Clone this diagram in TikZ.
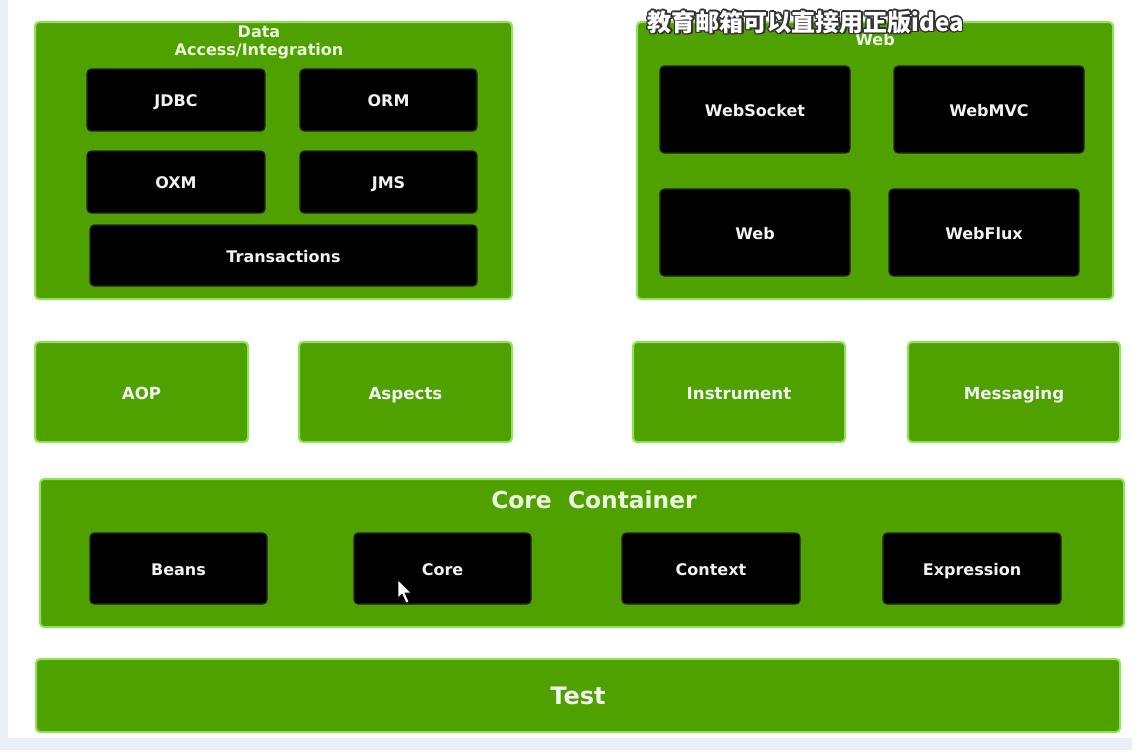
\documentclass[tikz,border=0pt]{standalone}
\usepackage{fontspec}
\setmainfont{DejaVu Sans}
\newfontfamily\cjkfont{Noto Sans CJK SC}
\usepackage[copies]{contour}
\contourlength{1.1pt}
\definecolor{sgreen}{HTML}{4FA100}
\definecolor{sborder}{HTML}{8FE35A}
\definecolor{bgout}{HTML}{E9EFF8}
\definecolor{ltxt}{HTML}{F2F2F2}
\definecolor{gtitle}{HTML}{ECF7E0}
\tikzset{
  greenbox/.style={fill=sgreen, draw=sborder, line width=1.5pt, rounded corners=3pt, inner sep=0pt, outer sep=0pt,
     text height=10.6pt, text depth=0pt},
  blackbox/.style={fill=black, draw=black!70!gray, line width=0.8pt, rounded corners=3pt, inner sep=0pt, outer sep=0pt,
     text=ltxt, font=\bfseries\fontsize{12}{14}\selectfont, text height=10pt, text depth=0pt},
  glabel/.style={text=ltxt, font=\bfseries\fontsize{12.5}{15}\selectfont},
  gtitlestyle/.style={text=gtitle, font=\bfseries\fontsize{12}{13.5}\selectfont, align=center, inner sep=0pt},
}
\begin{document}
\begin{tikzpicture}[x=0.75pt,y=-0.75pt]
\useasboundingbox (0,0) rectangle (1132,750);
\fill[bgout] (0,0) rectangle (1132,750);
\fill[white] (8,0) rectangle (1132,738);

% Data Access / Integration
\node[greenbox, minimum width=477*0.75pt, minimum height=277*0.75pt] (data) at (273.5,160.5) {};
\node[gtitlestyle] (datatitle) at (259,42) {Data\\Access/Integration};
\node[blackbox, minimum width=178*0.75pt, minimum height=62*0.75pt] (jdbc) at (176,100) {JDBC};
\node[blackbox, minimum width=177*0.75pt, minimum height=62*0.75pt] (orm) at (388.5,100) {ORM};
\node[blackbox, minimum width=178*0.75pt, minimum height=62*0.75pt] (oxm) at (176,182) {OXM};
\node[blackbox, minimum width=177*0.75pt, minimum height=62*0.75pt] (jms) at (388.5,182) {JMS};
\node[blackbox, minimum width=387*0.75pt, minimum height=61*0.75pt] (trans) at (283.5,255.5) {Transactions};

% Web
\node[greenbox, minimum width=476*0.75pt, minimum height=277*0.75pt] (webbox) at (875,160.5) {};
\node[gtitlestyle] (webtitle) at (875,40) {Web};
\node[blackbox, minimum width=190*0.75pt, minimum height=87*0.75pt] (websocket) at (755,109.5) {WebSocket};
\node[blackbox, minimum width=190*0.75pt, minimum height=87*0.75pt] (webmvc) at (989,109.5) {WebMVC};
\node[blackbox, minimum width=190*0.75pt, minimum height=87*0.75pt] (web) at (755,232.5) {Web};
\node[blackbox, minimum width=190*0.75pt, minimum height=87*0.75pt] (webflux) at (984,232.5) {WebFlux};

% middle row
\node[greenbox, glabel, minimum width=213*0.75pt, minimum height=100*0.75pt] (aop) at (141.5,392) {AOP};
\node[greenbox, glabel, minimum width=213*0.75pt, minimum height=100*0.75pt] (aspects) at (405.5,392) {Aspects};
\node[greenbox, glabel, minimum width=212*0.75pt, minimum height=100*0.75pt] (instrument) at (739,392) {Instrument};
\node[greenbox, glabel, minimum width=212*0.75pt, minimum height=100*0.75pt] (messaging) at (1014,392) {Messaging};

% Core Container
\node[greenbox, minimum width=1084*0.75pt, minimum height=148*0.75pt] (corecont) at (582,553) {};
\node[text=gtitle, font=\bfseries\fontsize{17.5}{20}\selectfont, inner sep=0pt] (coretitle) at (594,500) {Core\ \ Container};
\node[blackbox, minimum width=177*0.75pt, minimum height=71*0.75pt] (beans) at (178.5,568.5) {Beans};
\node[blackbox, minimum width=177*0.75pt, minimum height=71*0.75pt] (core) at (442.5,568.5) {Core};
\node[blackbox, minimum width=178*0.75pt, minimum height=71*0.75pt] (context) at (711,568.5) {Context};
\node[blackbox, minimum width=178*0.75pt, minimum height=71*0.75pt] (expression) at (972,568.5) {Expression};

% Test
\node[greenbox, text=ltxt, font=\bfseries\fontsize{18}{20}\selectfont, text height=13.6pt, text depth=0.4pt,
  minimum width=1084*0.75pt, minimum height=73*0.75pt] (test) at (578,695.5) {Test};

% mouse cursor
\filldraw[fill=white, draw=black, line width=0.5pt, line join=round]
  (398,580) -- (398,598) -- (402,594) -- (406,603) -- (409,602) -- (405,593) -- (411,593) -- cycle;

% subtitle
\node[text=white, font=\cjkfont\bfseries\fontsize{18}{20}\selectfont, inner sep=0pt] (subtitle) at (806,23) {\contour{black!80}{教育邮箱可以直接用正版idea}};
\end{tikzpicture}
\end{document}
